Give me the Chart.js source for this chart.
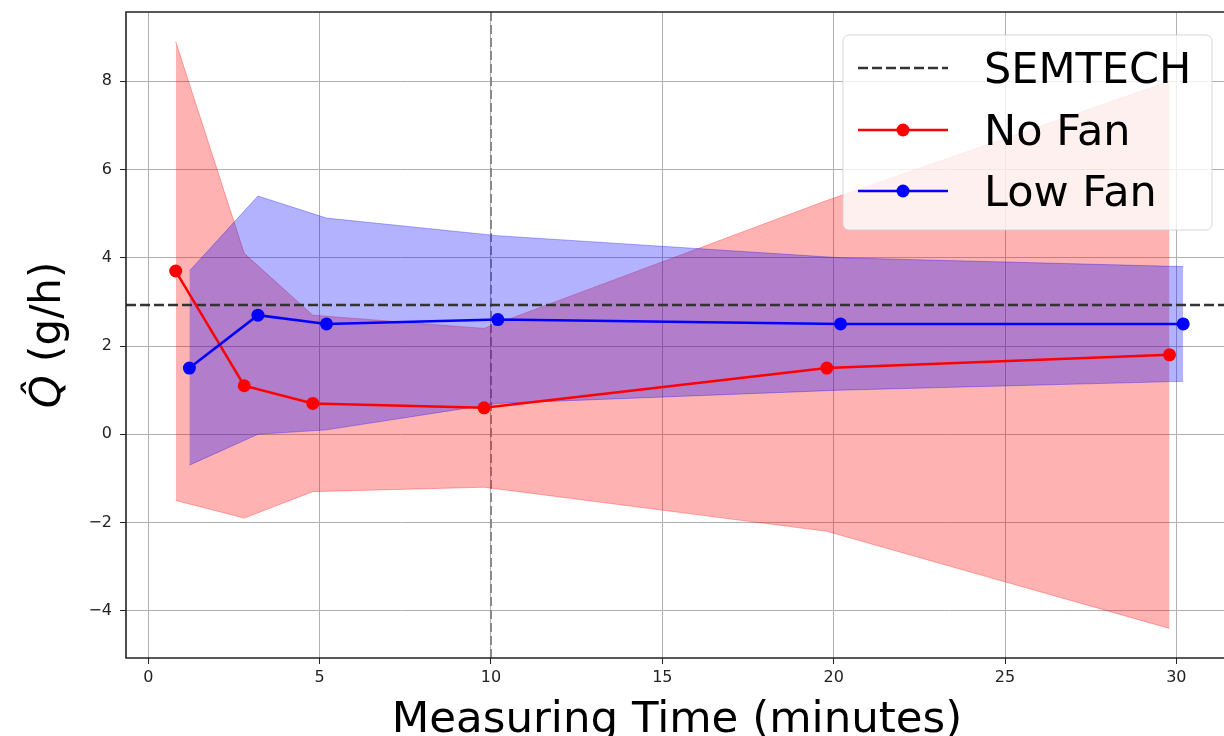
<!DOCTYPE html>
<html>
<head>
<meta charset="utf-8">
<script src="https://cdn.jsdelivr.net/npm/chart.js@4"></script>
<style>
  html, body { margin: 0; padding: 0; background: #fff; }
  #chart { display: block; }
</style>
</head>
<body>
<canvas id="chart" width="1224" height="736"></canvas>
<script>
// values
const noFanTime = [0.8, 2.8, 4.8, 9.8, 19.8, 29.8];
const noFanQ = [3.7, 1.1, 0.7, 0.6, 1.5, 1.8];
const noFanUpper = [8.9, 4.1, 2.7, 2.4, 5.3, 8.0];
const noFanLower = [-1.5, -1.9, -1.3, -1.2, -2.2, -4.4];

const lowFanTime = [1.2, 3.2, 5.2, 10.2, 20.2, 30.2];
const lowFanQ = [1.5, 2.7, 2.5, 2.6, 2.5, 2.5];
const lowFanUpper = [3.7, 5.4, 4.9, 4.5, 4.0, 3.8];
const lowFanLower = [-0.7, 0.0, 0.1, 0.7, 1.0, 1.2];

const semtechQ = 2.93;
const markerTime = 10;

const xTicks = [0, 5, 10, 15, 20, 25, 30];
const yTicks = [-4, -2, 0, 2, 4, 6, 8];
// the right side of the axes is cut off by the picture edge
const xRange = [-0.65, 31.39];
const yRange = [-5.07, 9.57];

const legendLabels = ['SEMTECH', 'No Fan', 'Low Fan'];

const FONT = '"DejaVu Sans", sans-serif';

const toPoints = (xs, ys) => xs.map((x, i) => ({ x: x, y: ys[i] }));

const ctx = document.getElementById('chart').getContext('2d');

// frame, axis titles, axvline and legend
const decorations = {
  id: 'decorations',
  beforeDatasetsDraw(chart) {
    const { ctx, chartArea, scales } = chart;
    const px = scales.x.getPixelForValue(markerTime);
    ctx.save();
    ctx.strokeStyle = '#888';
    ctx.lineWidth = 2;
    ctx.setLineDash([9, 4]);
    ctx.beginPath();
    ctx.moveTo(px, chartArea.top);
    ctx.lineTo(px, chartArea.bottom);
    ctx.stroke();
    ctx.restore();
  },
  afterDraw(chart) {
    const { ctx, chartArea } = chart;
    ctx.save();

    // spines (right one falls outside the picture)
    ctx.strokeStyle = '#222';
    ctx.lineWidth = 1.6;
    ctx.beginPath();
    ctx.moveTo(1226, chartArea.top);
    ctx.lineTo(chartArea.left, chartArea.top);
    ctx.lineTo(chartArea.left, chartArea.bottom);
    ctx.lineTo(1226, chartArea.bottom);
    ctx.stroke();

    // x title
    ctx.fillStyle = '#000';
    ctx.font = '43.5px ' + FONT;
    ctx.textAlign = 'center';
    ctx.textBaseline = 'alphabetic';
    ctx.fillText('Measuring Time (minutes)', 677, 732);

    // y title, rotated
    ctx.translate(60, (chartArea.top + chartArea.bottom) / 2);
    ctx.rotate(-Math.PI / 2);
    ctx.textAlign = 'left';
    const qPart = 'Q\u0302';
    const rest = ' (g/h)';
    ctx.font = 'italic 42px ' + FONT;
    const w1 = ctx.measureText(qPart).width;
    ctx.font = '42px ' + FONT;
    const w2 = ctx.measureText(rest).width;
    const start = -(w1 + w2) / 2;
    ctx.font = 'italic 42px ' + FONT;
    ctx.fillText(qPart, start, 0);
    ctx.font = '42px ' + FONT;
    ctx.fillText(rest, start + w1, 0);
    ctx.setTransform(1, 0, 0, 1, 0, 0);

    // legend box
    const bx = 843, by = 35, bw = 369, bh = 195, r = 6;
    ctx.beginPath();
    ctx.roundRect(bx, by, bw, bh, r);
    ctx.fillStyle = 'rgba(255,255,255,0.8)';
    ctx.fill();
    ctx.strokeStyle = 'rgba(204,204,204,0.8)';
    ctx.lineWidth = 1;
    ctx.stroke();

    const rows = [68, 130, 191];
    const colors = ['#333', 'red', 'blue'];
    rows.forEach((yc, i) => {
      ctx.strokeStyle = colors[i];
      ctx.lineWidth = 2.5;
      ctx.setLineDash(i === 0 ? [10, 4] : []);
      ctx.beginPath();
      ctx.moveTo(858, yc);
      ctx.lineTo(948, yc);
      ctx.stroke();
      ctx.setLineDash([]);
      if (i > 0) {
        ctx.fillStyle = colors[i];
        ctx.beginPath();
        ctx.arc(903, yc, 6.5, 0, Math.PI * 2);
        ctx.fill();
      }
      ctx.fillStyle = '#000';
      ctx.font = '43px ' + FONT;
      ctx.textAlign = 'left';
      ctx.textBaseline = 'alphabetic';
      ctx.fillText(legendLabels[i], 984, yc + 15);
    });
    ctx.restore();
  }
};

new Chart(ctx, {
  type: 'line',
  data: {
    datasets: [
      {
        data: toPoints(noFanTime, noFanUpper),
        fill: '+1',
        backgroundColor: 'rgba(255,0,0,0.3)',
        borderColor: 'rgba(255,0,0,0.3)',
        borderWidth: 1,
        pointRadius: 0,
        order: 4
      },
      {
        data: toPoints(noFanTime, noFanLower),
        fill: false,
        borderColor: 'rgba(255,0,0,0.3)',
        borderWidth: 1,
        pointRadius: 0,
        order: 4
      },
      {
        data: toPoints(lowFanTime, lowFanUpper),
        fill: '+1',
        backgroundColor: 'rgba(0,0,255,0.3)',
        borderColor: 'rgba(0,0,255,0.3)',
        borderWidth: 1,
        pointRadius: 0,
        order: 3
      },
      {
        data: toPoints(lowFanTime, lowFanLower),
        fill: false,
        borderColor: 'rgba(0,0,255,0.3)',
        borderWidth: 1,
        pointRadius: 0,
        order: 3
      },
      {
        label: 'SEMTECH',
        data: toPoints(xRange, [semtechQ, semtechQ]),
        borderColor: '#333',
        borderWidth: 2.5,
        borderDash: [10, 4],
        pointRadius: 0,
        fill: false,
        order: 2
      },
      {
        label: 'No Fan',
        data: toPoints(noFanTime, noFanQ),
        borderColor: 'red',
        backgroundColor: 'red',
        borderWidth: 2.5,
        pointRadius: 6.5,
        pointBorderWidth: 0,
        fill: false,
        order: 1
      },
      {
        label: 'Low Fan',
        data: toPoints(lowFanTime, lowFanQ),
        borderColor: 'blue',
        backgroundColor: 'blue',
        borderWidth: 2.5,
        pointRadius: 6.5,
        pointBorderWidth: 0,
        fill: false,
        order: 0
      }
    ]
  },
  options: {
    responsive: false,
    animation: false,
    devicePixelRatio: 1,
    layout: { autoPadding: false, padding: { top: 12, right: 0, left: 0, bottom: 0 } },
    plugins: {
      legend: { display: false },
      tooltip: { enabled: false }
    },
    scales: {
      x: {
        type: 'linear',
        min: xRange[0],
        max: xRange[1],
        afterBuildTicks: (s) => { s.ticks = xTicks.map(v => ({ value: v })); },
        afterFit: (s) => { s.height = 78; s.paddingLeft = 0; s.paddingRight = 0; },
        ticks: {
          font: { family: FONT, size: 16 },
          color: '#222',
          padding: 4,
          maxRotation: 0,
          callback: (v) => String(v)
        },
        grid: { color: '#b0b0b0', lineWidth: 1, tickColor: '#222', tickLength: 6 },
        border: { display: false }
      },
      y: {
        min: yRange[0],
        max: yRange[1],
        afterBuildTicks: (s) => { s.ticks = yTicks.map(v => ({ value: v })); },
        afterFit: (s) => { s.width = 126; s.paddingTop = 0; s.paddingBottom = 0; },
        ticks: {
          font: { family: FONT, size: 16 },
          color: '#222',
          padding: 8,
          callback: (v) => v < 0 ? '\u2212' + Math.abs(v) : String(v)
        },
        grid: { color: '#b0b0b0', lineWidth: 1, tickColor: '#222', tickLength: 6 },
        border: { display: false }
      }
    }
  },
  plugins: [decorations]
});
</script>
</body>
</html>
